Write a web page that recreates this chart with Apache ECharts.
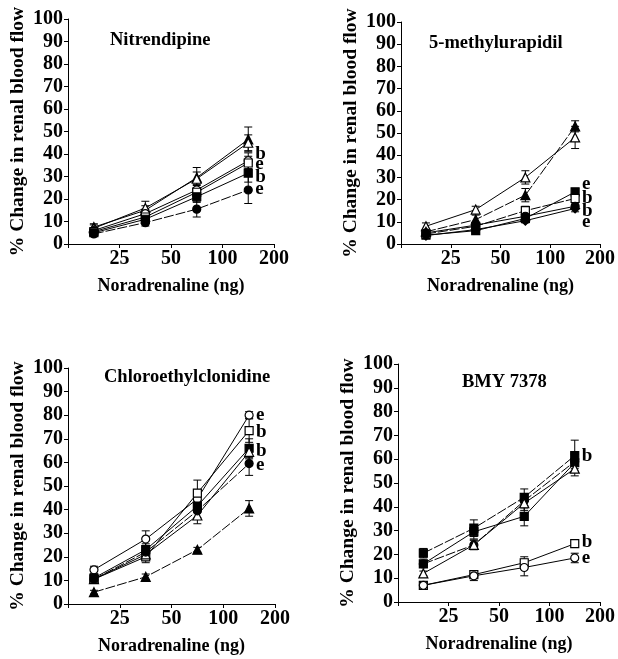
<!DOCTYPE html>
<html>
<head>
<meta charset="utf-8">
<script src="https://cdn.jsdelivr.net/npm/echarts@6/dist/echarts.min.js"></script>
<style>
  html, body { margin: 0; padding: 0; background: #fff; }
  #chart { width: 618px; height: 659px; }
</style>
</head>
<body>
<div id="chart"></div>
<script>
// noradrenaline doses (ng), plotted on a log2 axis running 12.5 -> 200
const doses = [17.7, 35.4, 70.7, 141.4];
const xTicks = [12.5, 25, 50, 100, 200];

// Nitrendipine
const nitFilledTri = [7.5, 15, 29.5, 46.5];
const nitFilledTriErr = [1.5, 2, 4.5, 5.5];
const nitOpenTri = [7, 16, 29, 45];
const nitOpenTriErr = [1.5, 3, 3, 3.5];
const nitOpenCircle = [6, 13.5, 24, 37];
const nitOpenCircleErr = [1, 2, 2.5, 3.5];
const nitOpenSquare = [5.5, 12, 23, 36];
const nitOpenSquareErr = [1, 1.5, 2, 3];
const nitFilledSquare = [5, 11, 21, 31.5];
const nitFilledSquareErr = [1, 1.5, 2.5, 4];
const nitFilledCircle = [4.5, 9.5, 15.5, 24];
const nitFilledCircleErr = [1, 1.5, 3.5, 6];
const nitLabels = [['b', 40], ['e', 35.5], ['b', 29.7], ['e', 24.4]];

// 5-methylurapidil
const mOpenTri = [8, 15.5, 30, 48];
const mOpenTriErr = [1.5, 1.5, 3, 5];
const mFilledTri = [5.5, 11, 22, 53];
const mFilledTriErr = [1, 2, 3, 2.5];
const mFilledSquare = [4, 6, 11.5, 23.5];
const mFilledSquareErr = [0.8, 1, 1.5, 1.5];
const mOpenSquare = [4.5, 8, 15, 20.5];
const mOpenSquareErr = [1, 1, 2, 1.5];
const mFilledCircle = [5, 8.5, 12.5, 17];
const mFilledCircleErr = [0.8, 1, 1.5, 1.5];
const mFilledDiamond = [3.8, 6.5, 10.5, 16];
const mFilledDiamondErr = [0.8, 1, 1, 1.5];
const mLabels = [['e', 27], ['b', 20.6], ['b', 14.7], ['e', 9.9]];

// Chloroethylclonidine
const cOpenCircle = [14.5, 27.5, 44.5, 80];
const cOpenCircleErr = [1.5, 3.5, 4, 1.5];
const cOpenSquare = [10.5, 20, 47, 73.5];
const cOpenSquareErr = [1, 2.5, 5.5, 5];
const cFilledSquare = [11, 23, 41.5, 66];
const cFilledSquareErr = [1, 2.5, 2.5, 4];
const cOpenTri = [10.5, 21, 37.5, 64.5];
const cOpenTriErr = [1, 2, 3.5, 3];
const cFilledCircle = [10.5, 22, 39.5, 59.5];
const cFilledCircleErr = [1, 2, 3, 5];
const cFilledTri = [5, 11.5, 23, 40.5];
const cFilledTriErr = [0.8, 1.2, 1, 3.3];
const cLabels = [['e', 80], ['b', 73], ['b', 65], ['e', 59]];

// BMY 7378
const bFilledSquareA = [20.5, 31, 44, 61.5];
const bFilledSquareAErr = [2, 3.5, 3.5, 6.5];
const bFilledSquareB = [16, 29.5, 36, 58.5];
const bFilledSquareBErr = [1.5, 3, 4, 4];
const bFilledCircle = [16, 24, 42.5, 59];
const bFilledCircleErr = [1.5, 2, 3, 3];
const bOpenTri = [12, 24, 41.5, 56];
const bOpenTriErr = [1, 2, 3, 3];
const bOpenSquare = [7, 11.5, 16.5, 24.5];
const bOpenSquareErr = [1, 1.5, 2.5, 1.5];
const bOpenCircle = [7, 11, 14.5, 18.5];
const bOpenCircleErr = [1, 2, 3.5, 2];
const bLabels = [['b', 61.5], ['b', 25], ['e', 18.5]];

const FONT = 'Liberation Serif';

const panels = [
  {
    title: 'Nitrendipine',
    grid: { left: 68, top: 19, width: 206, height: 225 },
    titlePos: { left: 110, top: 31 },
    lines: [
      { sym: 'triangle', filled: true, dashed: false, y: nitFilledTri, err: nitFilledTriErr },
      { sym: 'triangle', filled: false, dashed: false, y: nitOpenTri, err: nitOpenTriErr },
      { sym: 'circle', filled: false, dashed: false, y: nitOpenCircle, err: nitOpenCircleErr },
      { sym: 'rect', filled: false, dashed: false, y: nitOpenSquare, err: nitOpenSquareErr },
      { sym: 'rect', filled: true, dashed: false, y: nitFilledSquare, err: nitFilledSquareErr },
      { sym: 'circle', filled: true, dashed: true, y: nitFilledCircle, err: nitFilledCircleErr }
    ],
    labels: nitLabels
  },
  {
    title: '5-methylurapidil',
    grid: { left: 401, top: 22, width: 204, height: 222 },
    titlePos: { left: 429, top: 34 },
    lines: [
      { sym: 'triangle', filled: false, dashed: false, y: mOpenTri, err: mOpenTriErr },
      { sym: 'triangle', filled: true, dashed: true, y: mFilledTri, err: mFilledTriErr },
      { sym: 'rect', filled: true, dashed: false, y: mFilledSquare, err: mFilledSquareErr },
      { sym: 'rect', filled: false, dashed: true, y: mOpenSquare, err: mOpenSquareErr },
      { sym: 'circle', filled: true, dashed: false, y: mFilledCircle, err: mFilledCircleErr },
      { sym: 'diamond', filled: true, dashed: false, y: mFilledDiamond, err: mFilledDiamondErr }
    ],
    labels: mLabels
  },
  {
    title: 'Chloroethylclonidine',
    grid: { left: 68, top: 368, width: 207, height: 236 },
    titlePos: { left: 104, top: 368 },
    lines: [
      { sym: 'circle', filled: false, dashed: false, y: cOpenCircle, err: cOpenCircleErr },
      { sym: 'rect', filled: false, dashed: false, y: cOpenSquare, err: cOpenSquareErr },
      { sym: 'rect', filled: true, dashed: false, y: cFilledSquare, err: cFilledSquareErr },
      { sym: 'triangle', filled: false, dashed: false, y: cOpenTri, err: cOpenTriErr },
      { sym: 'circle', filled: true, dashed: true, y: cFilledCircle, err: cFilledCircleErr },
      { sym: 'triangle', filled: true, dashed: true, y: cFilledTri, err: cFilledTriErr }
    ],
    labels: cLabels
  },
  {
    title: 'BMY 7378',
    grid: { left: 398, top: 364, width: 205, height: 238 },
    titlePos: { left: 462, top: 373 },
    lines: [
      { sym: 'rect', filled: true, dashed: true, y: bFilledSquareA, err: bFilledSquareAErr },
      { sym: 'rect', filled: true, dashed: false, y: bFilledSquareB, err: bFilledSquareBErr },
      { sym: 'circle', filled: true, dashed: true, y: bFilledCircle, err: bFilledCircleErr },
      { sym: 'triangle', filled: false, dashed: false, y: bOpenTri, err: bOpenTriErr },
      { sym: 'rect', filled: false, dashed: false, y: bOpenSquare, err: bOpenSquareErr },
      { sym: 'circle', filled: false, dashed: false, y: bOpenCircle, err: bOpenCircleErr }
    ],
    labels: bLabels
  }
];

const toX = (d) => Math.log2(d / xTicks[0]);

const boldText = (size) => ({
  fontFamily: FONT,
  fontWeight: 'bold',
  fontSize: size,
  color: '#000'
});

function errorBarRender(params, api) {
  const x = api.value(0);
  const top = api.coord([x, api.value(2)]);
  const bot = api.coord([x, api.value(1)]);
  const w = 4;
  const style = { stroke: '#000', lineWidth: 1 };
  return {
    type: 'group',
    children: [
      { type: 'line', shape: { x1: top[0], y1: top[1], x2: bot[0], y2: bot[1] }, style },
      { type: 'line', shape: { x1: top[0] - w, y1: top[1], x2: top[0] + w, y2: top[1] }, style },
      { type: 'line', shape: { x1: bot[0] - w, y1: bot[1], x2: bot[0] + w, y2: bot[1] }, style }
    ]
  };
}

const grids = [];
const xAxes = [];
const yAxes = [];
const titles = [];
const series = [];

panels.forEach((p, i) => {
  grids.push(p.grid);
  titles.push({
    text: p.title,
    left: p.titlePos.left,
    top: p.titlePos.top,
    padding: 0,
    textStyle: boldText(18.5)
  });
  xAxes.push({
    gridIndex: i,
    type: 'value',
    min: 0,
    max: 4,
    interval: 1,
    name: 'Noradrenaline (ng)',
    nameLocation: 'middle',
    nameGap: 33,
    nameTextStyle: boldText(18),
    axisLine: { lineStyle: { color: '#000', width: 1 } },
    axisTick: { length: 4, lineStyle: { color: '#000' } },
    axisLabel: {
      ...boldText(20),
      margin: 5,
      formatter: (v) => (v === 0 ? '' : String(xTicks[v]))
    },
    splitLine: { show: false }
  });
  yAxes.push({
    gridIndex: i,
    type: 'value',
    min: 0,
    max: 100,
    interval: 10,
    name: '% Change in renal blood flow',
    nameLocation: 'middle',
    nameRotate: 90,
    nameGap: 40,
    nameTextStyle: boldText(19.5),
    axisLine: { show: true, lineStyle: { color: '#000', width: 1 } },
    axisTick: { show: true, length: 4, lineStyle: { color: '#000' } },
    axisLabel: { ...boldText(20), margin: 5 },
    splitLine: { show: false }
  });

  const errData = [];
  p.lines.forEach((ln) => {
    series.push({
      type: 'line',
      xAxisIndex: i,
      yAxisIndex: i,
      z: 3,
      symbol: ln.sym,
      symbolSize: ln.sym === 'triangle' ? 9 : ln.sym === 'diamond' ? 9 : 8,
      showAllSymbol: true,
      lineStyle: { color: '#000', width: 1, type: ln.dashed ? [10, 2] : 'solid' },
      itemStyle: {
        color: ln.filled ? '#000' : '#fff',
        borderColor: '#000',
        borderWidth: 1.2
      },
      emphasis: { disabled: true },
      data: doses.map((d, k) => [toX(d), ln.y[k]])
    });
    doses.forEach((d, k) => {
      errData.push([toX(d), ln.y[k] - ln.err[k], ln.y[k] + ln.err[k]]);
    });
  });

  series.push({
    type: 'custom',
    xAxisIndex: i,
    yAxisIndex: i,
    z: 2,
    renderItem: errorBarRender,
    data: errData
  });

  series.push({
    type: 'scatter',
    xAxisIndex: i,
    yAxisIndex: i,
    z: 4,
    symbolSize: 0,
    silent: true,
    itemStyle: { opacity: 1, color: '#000' },
    label: {
      show: true,
      position: 'right',
      distance: 7,
      ...boldText(19),
      formatter: (prm) => prm.data[2]
    },
    data: p.labels.map((l) => [toX(doses[doses.length - 1]), l[1], l[0]])
  });
});

const chart = echarts.init(document.getElementById('chart'));
chart.setOption({
  backgroundColor: '#fff',
  animation: false,
  title: titles,
  grid: grids,
  xAxis: xAxes,
  yAxis: yAxes,
  series: series
});
</script>
</body>
</html>
